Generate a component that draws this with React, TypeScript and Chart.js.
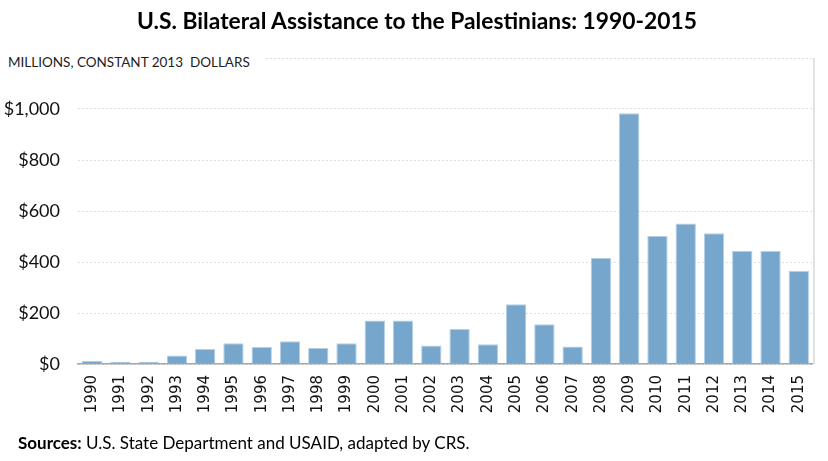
import React, { useEffect, useRef } from 'react';
import { Chart, registerables } from 'chart.js';

Chart.register(...registerables);

const years = [
  '1990', '1991', '1992', '1993', '1994', '1995', '1996', '1997', '1998', '1999',
  '2000', '2001', '2002', '2003', '2004', '2005', '2006', '2007', '2008', '2009',
  '2010', '2011', '2012', '2013', '2014', '2015',
];
const assistance = [
  13, 9, 9, 33, 59, 81, 67, 89, 63, 81,
  171, 171, 73, 137, 77, 234, 156, 69, 417, 983,
  502, 551, 513, 443, 443, 365,
];
const yMin = 0;
const yMax = 1200;
const yStep = 200;

const titleText = 'U.S. Bilateral Assistance to the Palestinians: 1990-2015';
const unitText = 'MILLIONS, CONSTANT 2013  DOLLARS';
const sourceLabel = 'Sources:';
const sourceText = ' U.S. State Department and USAID, adapted by CRS.';

const framePlugin = {
  id: 'frameRight',
  beforeDatasetsDraw(chart: any) {
    const { ctx, chartArea } = chart;
    ctx.save();
    ctx.strokeStyle = '#d9d9d9';
    ctx.lineWidth = 1.5;
    ctx.beginPath();
    ctx.moveTo(chartArea.right + 1, chartArea.top);
    ctx.lineTo(chartArea.right + 1, chartArea.bottom);
    ctx.stroke();
    ctx.restore();
  },
};

export default function App() {
  const canvasRef = useRef<HTMLCanvasElement | null>(null);

  useEffect(() => {
    document.body.style.margin = '0';
    const canvas = canvasRef.current;
    if (!canvas) return;
    const chart = new Chart(canvas, {
      type: 'bar',
      data: {
        labels: years,
        datasets: [
          {
            data: assistance,
            backgroundColor: '#76a6cc',
            borderColor: '#b4cfe6',
            borderWidth: 1,
            barPercentage: 0.72,
            categoryPercentage: 1,
          },
        ],
      },
      plugins: [framePlugin],
      options: {
        responsive: false,
        animation: false,
        layout: { padding: { top: 58, right: 11, left: 0, bottom: 0 } },
        plugins: {
          legend: { display: false },
          title: { display: false },
          tooltip: { enabled: false },
        },
        scales: {
          x: {
            grid: { display: false, drawTicks: false },
            border: { display: true, color: '#a6a6a6', width: 1.5 },
            ticks: {
              minRotation: 90,
              maxRotation: 90,
              padding: 11,
              color: '#111',
              font: { family: 'DejaVu Sans', size: 15 },
              autoSkip: false,
            },
            afterFit(scale: any) {
              scale.height = 97;
            },
          },
          y: {
            min: yMin,
            max: yMax,
            grid: { color: '#dedede', lineWidth: 1, drawTicks: false },
            border: { display: false, dash: [2, 2] },
            ticks: {
              stepSize: yStep,
              padding: 18,
              color: '#111',
              font: { family: 'Lato', size: 18 },
              callback: (v: any) =>
                Number(v) === yMax ? '' : '$' + Number(v).toLocaleString('en-US'),
            },
            afterFit(scale: any) {
              scale.width = 78;
            },
          },
        },
      },
    });
    return () => chart.destroy();
  }, []);

  return (
    <div style={{ position: 'relative', width: 828, height: 461, background: '#fff', overflow: 'hidden' }}>
      <canvas ref={canvasRef} width={828} height={461} style={{ position: 'absolute', left: 0, top: 0 }} />
      <div
        style={{
          position: 'absolute',
          left: 0,
          width: 834,
          top: 6,
          textAlign: 'center',
          fontFamily: 'Lato',
          fontWeight: 700,
          fontSize: 22.8,
          color: '#000',
          whiteSpace: 'nowrap',
        }}
      >
        {titleText}
      </div>
      <div
        style={{
          position: 'absolute',
          left: 0,
          top: 50,
          paddingLeft: 8,
          paddingRight: 16,
          background: '#fff',
          fontFamily: 'Lato',
          fontSize: 13.5,
          lineHeight: '24px',
          color: '#222',
          whiteSpace: 'pre',
        }}
      >
        {unitText}
      </div>
      <div
        style={{
          position: 'absolute',
          left: 18,
          top: 432,
          fontFamily: 'Lato',
          fontSize: 17,
          color: '#000',
          whiteSpace: 'pre',
        }}
      >
        <b>{sourceLabel}</b>
        {sourceText}
      </div>
    </div>
  );
}
